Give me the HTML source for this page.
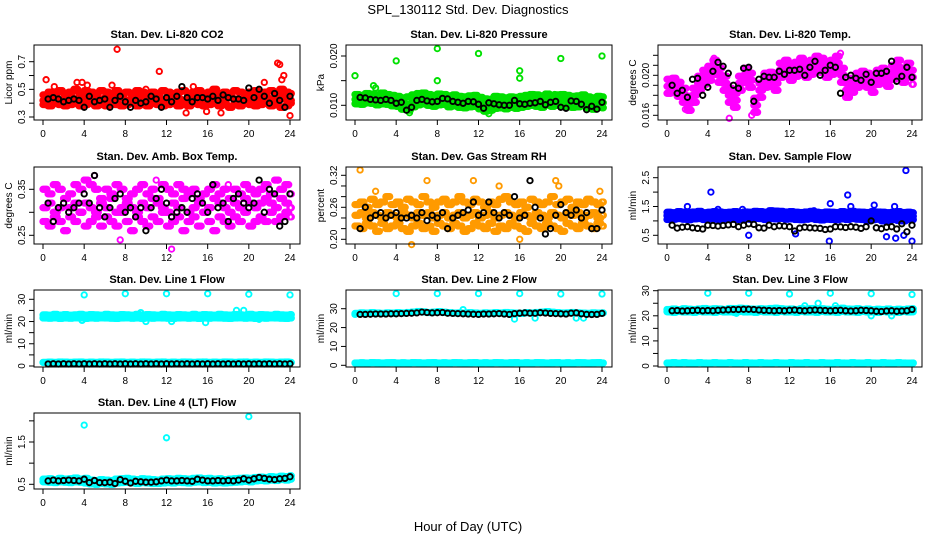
<!DOCTYPE html>
<html><head><meta charset="utf-8">
<style>
html,body{margin:0;padding:0;background:#fff;}
svg{display:block;font-family:"Liberation Sans",Arial,sans-serif;}
</style></head>
<body>
<svg id="chart" width="936" height="540" viewBox="0 0 936 540" xmlns="http://www.w3.org/2000/svg">
<rect x="0" y="0" width="936" height="540" fill="#fff"/>
<text x="468" y="14" text-anchor="middle" font-size="13">SPL_130112  Std. Dev. Diagnostics</text>
<text x="468" y="531" text-anchor="middle" font-size="13">Hour of Day (UTC)</text>
<g id="panels"></g>
</svg>
<script>
const hours=[0,0.5,1,1.5,2,2.5,3,3.5,4,4.5,5,5.5,6,6.5,7,7.5,8,8.5,9,9.5,10,10.5,11,11.5,12,12.5,13,13.5,14,14.5,15,15.5,16,16.5,17,17.5,18,18.5,19,19.5,20,20.5,21,21.5,22,22.5,23,23.5,24];
const xTicks=[0,4,8,12,16,20,24];

const co2Hi=[0.46,0.48,0.47,0.49,0.47,0.48,0.50,0.47,0.49,0.48,0.47,0.49,0.48,0.46,0.49,0.47,0.48,0.47,0.49,0.48,0.46,0.48,0.47,0.49,0.48,0.47,0.48,0.49,0.47,0.48,0.49,0.47,0.48,0.50,0.47,0.48,0.47,0.49,0.48,0.47,0.48,0.49,0.47,0.48,0.49,0.47,0.50,0.48,0.47];
const co2Mid=[0.42,0.43,0.44,0.42,0.43,0.44,0.43,0.42,0.44,0.43,0.42,0.43,0.44,0.42,0.43,0.44,0.42,0.43,0.44,0.43,0.42,0.43,0.44,0.42,0.43,0.44,0.43,0.42,0.43,0.44,0.43,0.42,0.44,0.43,0.42,0.43,0.44,0.43,0.42,0.44,0.43,0.42,0.43,0.44,0.43,0.42,0.44,0.43,0.42];
const co2Lo=[0.39,0.38,0.40,0.39,0.38,0.39,0.40,0.38,0.39,0.40,0.38,0.39,0.38,0.40,0.39,0.38,0.39,0.40,0.38,0.39,0.38,0.40,0.39,0.38,0.39,0.40,0.38,0.39,0.38,0.40,0.39,0.38,0.39,0.40,0.38,0.39,0.37,0.39,0.38,0.40,0.39,0.38,0.39,0.40,0.38,0.39,0.37,0.38,0.40];
const co2Black=[0.43,0.44,0.43,0.41,0.42,0.43,0.42,0.37,0.45,0.41,0.42,0.43,0.37,0.42,0.45,0.41,0.37,0.42,0.40,0.41,0.45,0.43,0.37,0.44,0.41,0.45,0.52,0.44,0.41,0.44,0.44,0.43,0.45,0.42,0.46,0.44,0.43,0.43,0.42,0.51,0.44,0.50,0.45,0.40,0.47,0.42,0.37,0.45];
const co2OutT=[7.2,11.3,0.3,22.8,23,23.2,23.4,24,13.9,17.3,15.9,3.3,3.8,4.3,6.7,21.5,1.1,10,14.6];
const co2OutV=[0.79,0.63,0.57,0.69,0.68,0.57,0.60,0.31,0.33,0.33,0.34,0.55,0.55,0.53,0.53,0.55,0.52,0.50,0.52];

const presHi=[0.0122,0.0120,0.0124,0.0123,0.0121,0.0125,0.0122,0.0120,0.0118,0.0115,0.0117,0.0121,0.0124,0.0125,0.0122,0.0120,0.0123,0.0122,0.0119,0.0121,0.0118,0.0117,0.0119,0.0120,0.0116,0.0113,0.0112,0.0118,0.0117,0.0115,0.0117,0.0116,0.0118,0.0120,0.0122,0.0121,0.0119,0.0123,0.0120,0.0121,0.0122,0.0120,0.0118,0.0119,0.0121,0.0117,0.0115,0.0118,0.0117];
const presMid=[0.0112,0.0111,0.0114,0.0113,0.0110,0.0112,0.0111,0.0109,0.0108,0.0104,0.0101,0.0106,0.0110,0.0112,0.0110,0.0108,0.0110,0.0112,0.0107,0.0109,0.0106,0.0105,0.0107,0.0108,0.0103,0.0099,0.0100,0.0104,0.0105,0.0103,0.0106,0.0104,0.0106,0.0108,0.0110,0.0108,0.0106,0.0110,0.0108,0.0110,0.0109,0.0107,0.0106,0.0107,0.0109,0.0105,0.0102,0.0106,0.0105];
const presLo=[0.0103,0.0102,0.0105,0.0104,0.0101,0.0103,0.0102,0.0099,0.0098,0.0092,0.0090,0.0097,0.0101,0.0103,0.0100,0.0098,0.0101,0.0102,0.0097,0.0099,0.0096,0.0095,0.0097,0.0098,0.0093,0.0088,0.0090,0.0094,0.0095,0.0093,0.0096,0.0094,0.0096,0.0098,0.0100,0.0098,0.0096,0.0101,0.0098,0.0100,0.0099,0.0097,0.0096,0.0097,0.0099,0.0095,0.0092,0.0096,0.0095];
const presBlack=[0.0116,0.0115,0.0112,0.0111,0.0110,0.0112,0.0110,0.0104,0.0106,0.0090,0.0096,0.0110,0.0112,0.0109,0.0107,0.0108,0.0114,0.0113,0.0108,0.0106,0.0104,0.0108,0.0107,0.0102,0.0094,0.0105,0.0103,0.0101,0.0100,0.0100,0.0110,0.0103,0.0102,0.0104,0.0105,0.0108,0.0101,0.0106,0.0108,0.0096,0.0094,0.0109,0.0108,0.0102,0.0091,0.0098,0.0092,0.0106];
const presOutT=[0,4,8,8,12,16,16,20,24,1.8,2,19.4,5.3,13];
const presOutV=[0.0160,0.0190,0.0215,0.0150,0.0205,0.0170,0.0155,0.0195,0.0200,0.0140,0.0135,0.0122,0.0085,0.0083];

const tempHi=[0.0196,0.0197,0.0193,0.0187,0.0179,0.0187,0.0199,0.0205,0.0209,0.0215,0.0207,0.0199,0.0187,0.0182,0.0199,0.0207,0.0202,0.0177,0.0192,0.0202,0.0203,0.0199,0.0212,0.0215,0.0209,0.0213,0.0217,0.0212,0.0215,0.0219,0.0217,0.0212,0.0215,0.0219,0.0207,0.0192,0.0197,0.0202,0.0204,0.0202,0.0197,0.0205,0.0207,0.0203,0.0210,0.0215,0.0207,0.0212,0.0205];
const tempMid=[0.0189,0.0190,0.0186,0.0180,0.0172,0.0180,0.0192,0.0198,0.0202,0.0208,0.0200,0.0192,0.0180,0.0175,0.0192,0.0200,0.0195,0.0170,0.0185,0.0195,0.0196,0.0192,0.0205,0.0208,0.0202,0.0206,0.0210,0.0205,0.0208,0.0212,0.0210,0.0205,0.0208,0.0212,0.0200,0.0185,0.0190,0.0195,0.0197,0.0195,0.0190,0.0198,0.0200,0.0196,0.0203,0.0208,0.0200,0.0205,0.0198];
const tempLo=[0.0182,0.0183,0.0179,0.0173,0.0165,0.0173,0.0185,0.0191,0.0195,0.0201,0.0193,0.0185,0.0173,0.0168,0.0185,0.0193,0.0188,0.0163,0.0178,0.0188,0.0189,0.0185,0.0198,0.0201,0.0195,0.0199,0.0203,0.0198,0.0201,0.0205,0.0203,0.0198,0.0201,0.0205,0.0193,0.0178,0.0183,0.0188,0.0190,0.0188,0.0183,0.0191,0.0193,0.0189,0.0196,0.0201,0.0193,0.0198,0.0191];
const tempBlack=[0.0190,0.0182,0.0185,0.0178,0.0196,0.0197,0.0180,0.0188,0.0204,0.0213,0.0209,0.0202,0.0190,0.0187,0.0207,0.0208,0.0174,0.0196,0.0199,0.0198,0.0198,0.0204,0.0201,0.0205,0.0205,0.0206,0.0200,0.0208,0.0214,0.0200,0.0205,0.0210,0.0208,0.0182,0.0198,0.0200,0.0197,0.0195,0.0201,0.0193,0.0202,0.0202,0.0204,0.0214,0.0194,0.0199,0.0208,0.0198];
const tempOutT=[6.1,2,8.3,17,4.6,2.3,1.8];
const tempOutV=[0.0157,0.0167,0.0160,0.0222,0.0217,0.0165,0.0166];

const ambHi=[0.35,0.34,0.36,0.35,0.33,0.34,0.36,0.35,0.37,0.36,0.35,0.33,0.35,0.34,0.36,0.35,0.33,0.34,0.35,0.36,0.34,0.35,0.33,0.36,0.35,0.34,0.36,0.35,0.34,0.35,0.33,0.34,0.35,0.36,0.34,0.35,0.33,0.35,0.34,0.36,0.35,0.34,0.35,0.36,0.34,0.37,0.35,0.36,0.34];
const ambMid=[0.31,0.32,0.30,0.31,0.33,0.31,0.32,0.30,0.32,0.31,0.30,0.32,0.31,0.33,0.30,0.31,0.32,0.31,0.30,0.32,0.31,0.33,0.32,0.31,0.30,0.32,0.31,0.33,0.30,0.31,0.32,0.30,0.31,0.33,0.32,0.31,0.30,0.32,0.31,0.33,0.32,0.31,0.32,0.33,0.32,0.31,0.33,0.32,0.31];
const ambLo=[0.28,0.27,0.29,0.28,0.26,0.29,0.28,0.30,0.27,0.28,0.29,0.27,0.29,0.28,0.27,0.30,0.28,0.26,0.29,0.28,0.27,0.29,0.28,0.30,0.27,0.28,0.29,0.26,0.28,0.29,0.27,0.30,0.28,0.26,0.29,0.28,0.27,0.29,0.28,0.30,0.27,0.28,0.29,0.28,0.30,0.28,0.29,0.30,0.29];
const ambBlack=[0.32,0.28,0.31,0.32,0.30,0.31,0.32,0.34,0.32,0.38,0.31,0.29,0.31,0.33,0.34,0.30,0.31,0.29,0.31,0.26,0.31,0.33,0.35,0.32,0.29,0.30,0.31,0.30,0.33,0.34,0.32,0.30,0.36,0.31,0.32,0.28,0.33,0.34,0.32,0.31,0.32,0.37,0.30,0.35,0.34,0.27,0.28,0.34];
const ambOutT=[11,12.5,7.5,5,22.8,4,18];
const ambOutV=[0.37,0.22,0.24,0.38,0.37,0.37,0.36];

const rhHi=[0.265,0.27,0.26,0.275,0.265,0.27,0.28,0.265,0.27,0.26,0.275,0.27,0.265,0.28,0.27,0.26,0.27,0.275,0.265,0.27,0.28,0.27,0.265,0.275,0.27,0.26,0.27,0.265,0.275,0.28,0.27,0.265,0.27,0.26,0.275,0.27,0.265,0.27,0.28,0.265,0.27,0.275,0.26,0.27,0.265,0.275,0.27,0.265,0.27];
const rhMid=[0.245,0.25,0.24,0.25,0.245,0.24,0.25,0.245,0.24,0.25,0.245,0.24,0.25,0.245,0.25,0.24,0.245,0.25,0.24,0.245,0.25,0.24,0.245,0.25,0.24,0.245,0.25,0.24,0.245,0.25,0.245,0.24,0.25,0.245,0.24,0.25,0.245,0.24,0.25,0.245,0.24,0.25,0.245,0.25,0.24,0.245,0.25,0.24,0.245];
const rhLo=[0.225,0.22,0.23,0.225,0.215,0.23,0.22,0.225,0.23,0.22,0.215,0.225,0.23,0.22,0.225,0.215,0.23,0.225,0.22,0.23,0.225,0.215,0.22,0.23,0.225,0.22,0.23,0.215,0.225,0.22,0.23,0.225,0.22,0.215,0.23,0.225,0.22,0.23,0.225,0.22,0.215,0.23,0.225,0.22,0.23,0.225,0.22,0.23,0.225];
const rhBlack=[0.22,0.26,0.24,0.245,0.25,0.24,0.245,0.25,0.24,0.24,0.245,0.24,0.25,0.235,0.245,0.24,0.25,0.22,0.24,0.245,0.25,0.255,0.27,0.245,0.25,0.27,0.25,0.24,0.25,0.245,0.28,0.24,0.245,0.31,0.26,0.24,0.21,0.22,0.245,0.265,0.25,0.245,0.255,0.24,0.25,0.22,0.22,0.255];
const rhOutT=[0.5,7,5.5,16,11.5,19.5,2,14,19.8,23.8];
const rhOutV=[0.33,0.31,0.19,0.20,0.31,0.31,0.29,0.30,0.30,0.29];

const sfHi=[1.30,1.28,1.32,1.30,1.29,1.31,1.33,1.28,1.30,1.32,1.31,1.29,1.30,1.32,1.28,1.31,1.30,1.33,1.32,1.30,1.35,1.34,1.33,1.31,1.32,1.30,1.29,1.31,1.33,1.30,1.28,1.31,1.30,1.29,1.32,1.30,1.33,1.31,1.30,1.29,1.32,1.31,1.30,1.28,1.30,1.32,1.29,1.30,1.28];
const sfMid=[1.18,1.17,1.20,1.19,1.16,1.18,1.21,1.17,1.19,1.20,1.18,1.17,1.19,1.21,1.17,1.18,1.19,1.22,1.20,1.18,1.23,1.22,1.21,1.19,1.20,1.18,1.17,1.19,1.21,1.18,1.16,1.19,1.18,1.17,1.20,1.18,1.21,1.19,1.18,1.17,1.20,1.19,1.18,1.16,1.18,1.20,1.17,1.18,1.16];
const sfLo=[1.05,1.06,1.08,1.06,1.04,1.07,1.08,1.05,1.07,1.06,1.05,1.07,1.08,1.06,1.05,1.07,1.06,1.09,1.08,1.05,1.08,1.07,1.09,1.06,1.07,1.05,1.04,1.06,1.08,1.05,1.03,1.06,1.05,1.04,1.07,1.05,1.08,1.06,1.05,1.00,1.04,1.06,1.00,0.98,1.05,1.02,1.00,1.05,1.04];
const sfBlack=[0.85,0.75,0.78,0.80,0.76,0.74,0.72,0.85,0.84,0.82,0.84,0.86,0.88,0.80,0.85,0.90,0.88,0.76,0.75,0.85,0.80,0.83,0.82,0.80,0.65,0.75,0.78,0.76,0.75,0.74,0.70,0.72,0.80,0.79,0.77,0.80,0.78,0.74,0.80,1.00,0.76,0.73,0.78,0.80,0.72,0.90,0.62,0.85];
const sfOutT=[4.3,8,12.6,15.9,16,17.7,23.4,24,21.5,22.4,23.2,2,20.3,22.3,18,5,7.4,14.4];
const sfOutV=[2.00,0.50,0.55,0.30,1.60,1.90,2.75,0.30,0.45,0.40,0.50,1.50,1.55,1.50,1.50,1.40,1.40,1.35];

const l1Hi=[23.0,22.8,23.2,22.9,23.1,22.8,23.0,23.2,22.9,23.1,23.0,22.8,23.2,23.0,22.9,23.1,23.0,22.8,23.2,22.9,23.1,23.0,22.8,23.2,23.0,22.9,23.1,23.0,22.8,23.2,22.9,23.1,23.0,22.8,23.2,23.0,22.9,23.1,23.0,22.8,23.2,22.9,23.1,23.0,22.8,23.2,23.0,22.9,23.1];
const l1Lo=[21.6,21.5,21.7,21.4,21.6,21.5,21.7,21.6,21.4,21.6,21.5,21.7,21.6,21.5,21.4,21.6,21.7,21.5,21.6,21.4,21.6,21.5,21.7,21.6,21.5,21.4,21.6,21.7,21.5,21.6,21.4,21.6,21.5,21.7,21.6,21.5,21.4,21.6,21.7,21.5,21.6,21.4,21.6,21.5,21.7,21.6,21.5,21.4,21.6];
const l1Base=[1.6,1.7,1.6,1.8,1.7,1.6,1.7,1.8,1.6,1.7,1.6,1.8,1.7,1.6,1.7,1.8,1.6,1.7,1.6,1.8,1.7,1.6,1.7,1.8,1.6,1.7,1.6,1.8,1.7,1.6,1.7,1.8,1.6,1.7,1.6,1.8,1.7,1.6,1.7,1.8,1.6,1.7,1.6,1.8,1.7,1.6,1.7,1.8,1.6];
const l1Black=[0.9,1.0,0.9,1.0,0.9,1.0,0.9,1.0,0.9,1.0,0.9,1.0,0.9,1.0,0.9,1.0,0.9,1.0,0.9,1.0,0.9,1.0,0.9,1.0,0.9,1.0,0.9,1.0,0.9,1.0,0.9,1.0,0.9,1.0,0.9,1.0,0.9,1.0,0.9,1.0,0.9,1.0,0.9,1.0,0.9,1.0,0.9,1.0];
const l1OutT=[4,8,12,16,20,24,19.5,18.8,3.8,10,9.5,12.5,15.8,21];
const l1OutV=[32,32.5,32.5,32.5,32.3,32,25,25,20.5,20,24,20,19.5,21];

const l2Hi=[27.5,27.8,27.6,27.9,27.7,27.5,27.8,27.6,27.9,27.7,28.0,28.2,28.5,28.3,28.0,28.2,28.4,28.1,27.9,27.7,27.8,27.6,27.9,27.7,27.5,27.8,27.6,27.9,27.7,28.0,27.8,27.6,27.5,27.9,27.7,28.0,28.2,28.4,28.1,27.9,27.7,27.8,28.0,27.8,27.6,27.5,27.8,27.6,27.8];
const l2Base=[1.2,1.3,1.2,1.4,1.3,1.2,1.3,1.4,1.2,1.3,1.2,1.4,1.3,1.2,1.3,1.4,1.2,1.3,1.2,1.4,1.3,1.2,1.3,1.4,1.2,1.3,1.2,1.4,1.3,1.2,1.3,1.4,1.2,1.3,1.2,1.4,1.3,1.2,1.3,1.4,1.2,1.3,1.2,1.4,1.3,1.2,1.3,1.4,1.2];
const l2Black=[27.0,27.0,27.1,27.2,27.2,27.2,27.3,27.3,27.4,27.5,27.6,27.8,28.2,28.0,27.8,27.9,28.0,27.6,27.5,27.4,27.3,27.2,27.1,27.0,27.2,27.2,27.3,27.4,27.2,27.0,27.4,27.6,27.8,27.6,27.6,27.9,27.7,27.5,27.4,27.3,27.2,27.6,27.8,27.3,27.0,26.9,27.0,27.5];
const l2OutT=[4,8,12,16,20,24,10.5,15.5,17.5,21.5,22.2,0];
const l2OutV=[38,38,38,38,37.8,37.8,29.5,24.5,25,25,25,27];

const l3Hi=[22.5,22.7,22.4,22.8,22.6,22.5,22.7,22.9,22.6,22.8,22.7,22.5,22.9,22.8,23.0,22.9,22.7,22.6,22.8,22.7,22.9,23.0,22.8,22.6,22.7,22.5,22.8,22.6,22.9,22.7,22.8,22.6,22.5,22.8,23.0,22.7,22.6,22.8,22.5,22.7,22.4,22.6,22.5,22.7,22.4,22.6,22.5,22.7,22.8];
const l3Lo=[21.6,21.4,21.7,21.5,21.6,21.4,21.7,21.5,21.6,21.4,21.7,21.5,21.6,21.4,21.7,21.5,21.6,21.4,21.7,21.5,21.6,21.4,21.7,21.5,21.6,21.4,21.7,21.5,21.6,21.4,21.7,21.5,21.6,21.4,21.7,21.5,21.6,21.4,21.7,21.5,21.6,21.4,21.7,21.5,21.6,21.4,21.7,21.5,21.6];
const l3Base=[1.2,1.3,1.1,1.3,1.2,1.1,1.3,1.2,1.1,1.3,1.2,1.1,1.3,1.2,1.1,1.3,1.2,1.1,1.3,1.2,1.1,1.3,1.2,1.1,1.3,1.2,1.1,1.3,1.2,1.1,1.3,1.2,1.1,1.3,1.2,1.1,1.3,1.2,1.1,1.3,1.2,1.1,1.3,1.2,1.1,1.3,1.2,1.1,1.2];
const l3Black=[22.0,22.1,21.9,22.0,22.1,22.2,22.0,22.1,22.0,22.2,22.3,22.4,22.5,22.5,22.6,22.6,22.5,22.3,22.2,22.1,22.0,22.1,22.0,22.2,22.3,22.1,22.0,22.2,22.3,22.2,22.1,22.0,22.1,22.2,22.0,21.9,22.0,22.2,22.1,22.0,21.8,21.7,21.9,22.0,21.8,21.9,22.0,22.5];
const l3OutT=[4,8,12,16,20,24,14.8,20,13.5,6.8,16.5,22];
const l3OutV=[29,29,28.7,29,28.8,28.5,25,20,24,21,24,20];

const l4Hi=[0.62,0.63,0.61,0.64,0.62,0.63,0.65,0.62,0.64,0.60,0.59,0.61,0.60,0.59,0.62,0.63,0.64,0.62,0.61,0.63,0.62,0.61,0.60,0.62,0.63,0.62,0.64,0.63,0.62,0.64,0.65,0.63,0.64,0.62,0.63,0.61,0.62,0.63,0.64,0.65,0.64,0.66,0.67,0.66,0.68,0.67,0.69,0.68,0.70];
const l4Lo=[0.56,0.55,0.54,0.56,0.55,0.54,0.56,0.55,0.53,0.51,0.50,0.52,0.51,0.50,0.53,0.54,0.55,0.53,0.52,0.54,0.53,0.52,0.52,0.53,0.54,0.53,0.55,0.54,0.53,0.55,0.56,0.54,0.55,0.53,0.54,0.53,0.54,0.55,0.56,0.57,0.56,0.58,0.59,0.58,0.60,0.59,0.61,0.60,0.62];
const l4Black=[0.58,0.60,0.58,0.59,0.60,0.59,0.58,0.62,0.54,0.59,0.54,0.54,0.55,0.52,0.61,0.57,0.53,0.57,0.56,0.55,0.55,0.56,0.58,0.60,0.58,0.58,0.59,0.58,0.57,0.62,0.60,0.58,0.58,0.59,0.58,0.59,0.58,0.60,0.63,0.60,0.63,0.66,0.64,0.62,0.61,0.63,0.64,0.68];
const l4OutT=[4,12,20];
const l4OutV=[1.9,1.6,2.1];

const NS="http://www.w3.org/2000/svg";
const root=document.getElementById('panels');
function mk(tag,attrs,parent){const e=document.createElementNS(NS,tag);for(const k in attrs)e.setAttribute(k,attrs[k]);(parent||root).appendChild(e);return e;}

const colLeft=[34,346,658], colW=[266,266,264];
const rowTop=[45,167,290,413], rowH=[75,77,77,76];
const DENSE_OFFSETS=[0,0.125,0.25,0.375];

function makePanel(p){
  const L=colLeft[p.col], W=colW[p.col], T=rowTop[p.row], H=rowH[p.row];
  const g=mk('g',{});
  
  
  const xs=v=>L+9+(v/24)*(W-19);
  const ys=v=>p.y0p+(v-p.y0)*(p.y1p-p.y0p)/(p.y1-p.y0);
  const t=mk('text',{x:L+W/2,y:T-7,'text-anchor':'middle','font-size':'11','font-weight':'bold'},g);
  t.textContent=p.title;
  
  
  const mg=mk('g',{},g);
  
  
  p.series.forEach(s=>{
    const offs=s.dense?DENSE_OFFSETS:[0];
    offs.forEach(dx=>{
      s.v.forEach((val,i)=>{
        const tm=s.t?s.t[i]:hours[i+(s.off||0)];
        if(tm===undefined)return;
        const xx=tm+dx+(s.dx||0);
        if(xx>24.2)return;
        const c=mk('circle',{cx:(xs(xx)).toFixed(1),cy:ys(val).toFixed(1),r:2.7,fill:'none',stroke:s.c,'stroke-width':1.9},mg);
        
        
      });
    });
  });
  const box=mk('rect',{x:L,y:T,width:W,height:H,fill:'none',stroke:'#000','stroke-width':1},g);
  
  
  const xa=mk('g',{},g);
  
  
  mk('line',{x1:xs(0),x2:xs(24),y1:T+H,y2:T+H,stroke:'#000'},xa);
  xTicks.forEach(v=>{
    mk('line',{x1:xs(v),x2:xs(v),y1:T+H,y2:T+H+5,stroke:'#000'},xa);
    const lt=mk('text',{x:xs(v),y:T+H+17,'text-anchor':'middle','font-size':'10'},xa);
    lt.textContent=v;
  });
  const ya=mk('g',{},g);
  
  
  mk('line',{x1:L,x2:L,y1:ys(p.ticks[0]),y2:ys(p.ticks[p.ticks.length-1]),stroke:'#000'},ya);
  p.ticks.forEach(v=>{mk('line',{x1:L-5,x2:L,y1:ys(v),y2:ys(v),stroke:'#000'},ya);});
  p.labels.forEach((v,i)=>{
    const yy=ys(v);
    const lt=mk('text',{x:L-9,y:yy,'text-anchor':'middle','font-size':'10',transform:`rotate(-90 ${L-9} ${yy})`},ya);
    lt.textContent=p.labelText[i];
  });
  const yt=mk('text',{x:L-22,y:T+H/2,'text-anchor':'middle','font-size':'10',transform:`rotate(-90 ${L-22} ${T+H/2})`},g);
  yt.textContent=p.ylab;
  
  
}

const RED='#ff0000',GRN='#00e000',MAG='#ff00ff',ORG='#ff9a00',BLU='#0000ff',CY='#00ffff',BK='#000';
const panels=[
 {name:'co2',col:0,row:0,title:'Stan. Dev. Li-820 CO2',ylab:'Licor ppm',y0:0.3,y0p:117,y1:0.7,y1p:61.7,ticks:[0.3,0.4,0.5,0.6,0.7],labels:[0.3,0.5,0.7],labelText:['0.3','0.5','0.7'],
  series:[{v:co2Hi,c:RED,dense:1},{v:co2Mid,c:RED,dense:1},{v:co2Lo,c:RED,dense:1},{t:co2OutT,v:co2OutV,c:RED},{v:co2Black,c:BK,off:1}]},
 {name:'pressure',col:1,row:0,title:'Stan. Dev. Li-820 Pressure',ylab:'kPa',y0:0.010,y0p:105.3,y1:0.020,y1p:56,ticks:[0.010,0.015,0.020],labels:[0.010,0.020],labelText:['0.010','0.020'],
  series:[{v:presHi,c:GRN,dense:1},{v:presMid,c:GRN,dense:1},{v:presLo,c:GRN,dense:1},{t:presOutT,v:presOutV,c:GRN},{v:presBlack,c:BK,off:1}]},
 {name:'temp',col:2,row:0,title:'Stan. Dev. Li-820 Temp.',ylab:'degrees C',y0:0.016,y0p:115.3,y1:0.020,y1p:75.3,ticks:[0.016,0.017,0.018,0.019,0.020,0.021,0.022],labels:[0.016,0.020],labelText:['0.016','0.020'],
  series:[{v:tempHi,c:MAG,dense:1},{v:tempMid,c:MAG,dense:1},{v:tempLo,c:MAG,dense:1},{t:tempOutT,v:tempOutV,c:MAG},{v:tempBlack,c:BK,off:1}]},
 {name:'amb-box-temp',col:0,row:1,title:'Stan. Dev. Amb. Box Temp.',ylab:'degrees C',y0:0.25,y0p:235.3,y1:0.35,y1p:189.3,ticks:[0.25,0.30,0.35],labels:[0.25,0.35],labelText:['0.25','0.35'],
  series:[{v:ambHi,c:MAG,dense:1},{v:ambMid,c:MAG,dense:1},{v:ambLo,c:MAG,dense:1},{t:ambOutT,v:ambOutV,c:MAG},{v:ambBlack,c:BK,off:1}]},
 {name:'gas-rh',col:1,row:1,title:'Stan. Dev. Gas Stream RH',ylab:'percent',y0:0.20,y0p:239.3,y1:0.32,y1p:175.3,ticks:[0.20,0.22,0.24,0.26,0.28,0.30,0.32],labels:[0.20,0.26,0.32],labelText:['0.20','0.26','0.32'],
  series:[{v:rhHi,c:ORG,dense:1},{v:rhMid,c:ORG,dense:1},{v:rhLo,c:ORG,dense:1},{t:rhOutT,v:rhOutV,c:ORG},{v:rhBlack,c:BK,off:1}]},
 {name:'sample-flow',col:2,row:1,title:'Stan. Dev. Sample Flow',ylab:'ml/min',y0:0.5,y0p:235.3,y1:2.5,y1p:177.7,ticks:[0.5,1.0,1.5,2.0,2.5],labels:[0.5,1.5,2.5],labelText:['0.5','1.5','2.5'],
  series:[{v:sfHi,c:BLU,dense:1},{v:sfMid,c:BLU,dense:1},{v:sfLo,c:BLU,dense:1},{t:sfOutT,v:sfOutV,c:BLU},{v:sfBlack,c:BK,off:1}]},
 {name:'line1-flow',col:0,row:2,title:'Stan. Dev. Line 1 Flow',ylab:'ml/min',y0:0,y0p:366,y1:30,y1p:299.3,ticks:[0,5,10,15,20,25,30],labels:[0,10,20,30],labelText:['0','10','20','30'],
  series:[{v:l1Hi,c:CY,dense:1},{v:l1Lo,c:CY,dense:1},{v:l1Base,c:CY,dense:1},{t:l1OutT,v:l1OutV,c:CY},{v:l1Black,c:BK,off:1}]},
 {name:'line2-flow',col:1,row:2,title:'Stan. Dev. Line 2 Flow',ylab:'ml/min',y0:0,y0p:365.3,y1:30,y1p:308.7,ticks:[0,10,20,30],labels:[0,10,20,30],labelText:['0','10','20','30'],
  series:[{v:l2Hi,c:CY,dense:1},{v:l2Base,c:CY,dense:1},{t:l2OutT,v:l2OutV,c:CY},{v:l2Black,c:BK,off:1}]},
 {name:'line3-flow',col:2,row:2,title:'Stan. Dev. Line 3 Flow',ylab:'ml/min',y0:0,y0p:366,y1:30,y1p:290.7,ticks:[0,5,10,15,20,25,30],labels:[0,10,20,30],labelText:['0','10','20','30'],
  series:[{v:l3Hi,c:CY,dense:1},{v:l3Lo,c:CY,dense:1},{v:l3Base,c:CY,dense:1},{t:l3OutT,v:l3OutV,c:CY},{v:l3Black,c:BK,off:1}]},
 {name:'line4-flow',col:0,row:3,title:'Stan. Dev. Line 4 (LT) Flow',ylab:'ml/min',y0:0.5,y0p:484.3,y1:1.5,y1p:442,ticks:[0.5,1.0,1.5,2.0],labels:[0.5,1.5],labelText:['0.5','1.5'],
  series:[{v:l4Hi,c:CY,dense:1},{v:l4Lo,c:CY,dense:1},{t:l4OutT,v:l4OutV,c:CY},{v:l4Black,c:BK,off:1}]}
];
panels.forEach(makePanel);
</script>
</body></html>
